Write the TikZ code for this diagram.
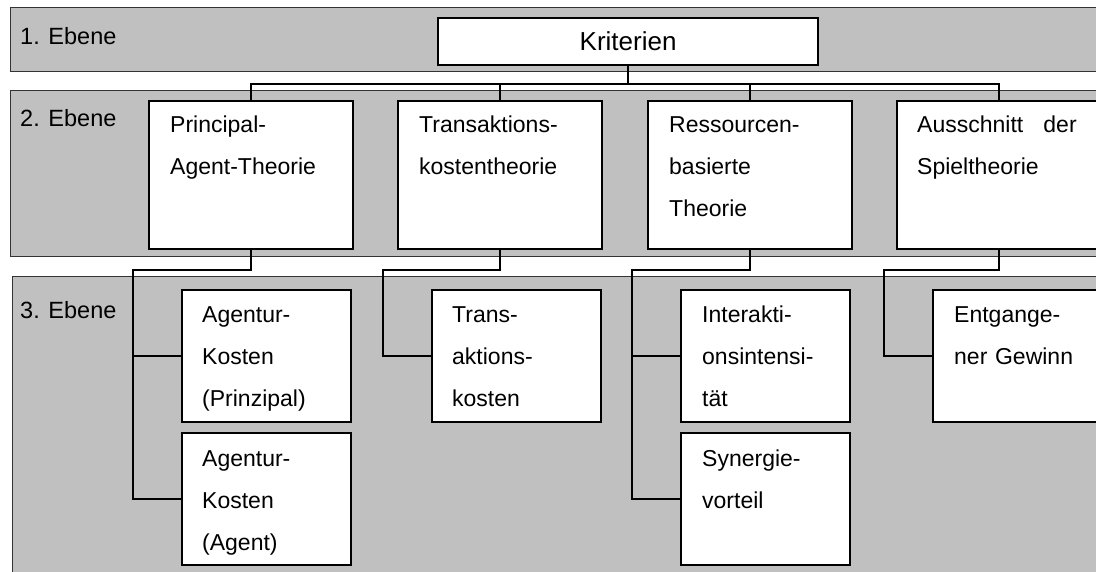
\documentclass[tikz,border=0pt]{standalone}
\usepackage{fontspec}
\setmainfont{Liberation Sans}
\definecolor{bandgray}{HTML}{C0C0C0}
\begin{document}
\begin{tikzpicture}[x=1pt,y=-1pt,
  band/.style={draw=black!80, line width=1pt, fill=bandgray},
  box/.style={draw=black, line width=2.2pt, fill=white, anchor=north west, inner sep=0pt},
  txt/.style={anchor=base west, inner sep=0pt, text width=180pt, align=left, font=\fontsize{23}{42}\selectfont},
  lbl/.style={anchor=base west, inner sep=0pt, font=\fontsize{23.5}{28}\selectfont},
  conn/.style={draw=black, line width=2.2pt}]
\useasboundingbox (0,0) rectangle (1096,572);
\clip (0,0) rectangle (1096,572);
% bands
\draw[band] (10,8) rectangle (1110,72);
\draw[band] (10,91) rectangle (1110,257);
\draw[band] (12,277) rectangle (1110,590);
\node[lbl] (l1) at (20,45) {1. Ebene};
\node[lbl] (l2) at (20,127) {2. Ebene};
\node[lbl] (l3) at (20,319) {3. Ebene};
% boxes
\node[box, minimum width=380pt, minimum height=47pt, font=\fontsize{26}{30}\selectfont] (K) at (437,17) {Kriterien};
\node[box, minimum width=204pt, minimum height=148pt] (P) at (148,100) {};
\node[box, minimum width=204pt, minimum height=148pt] (T) at (397,100) {};
\node[box, minimum width=204pt, minimum height=148pt] (R) at (647,100) {};
\node[box, minimum width=204pt, minimum height=148pt] (A) at (896,100) {};
\node[box, minimum width=169pt, minimum height=132pt] (AK1) at (181,289) {};
\node[box, minimum width=169pt, minimum height=132pt] (AK2) at (181,432) {};
\node[box, minimum width=169pt, minimum height=132pt] (TK) at (431,289) {};
\node[box, minimum width=169pt, minimum height=132pt] (IA) at (680,289) {};
\node[box, minimum width=169pt, minimum height=132pt] (SV) at (680,432) {};
\node[box, minimum width=168pt, minimum height=132pt] (EG) at (932,289) {};
% connectors
\coordinate (bus) at ([yshift=-18pt]K.south);
\draw[conn] (K.south) -- (bus);
\draw[conn] (P.north) |- (bus) -| (A.north);
\draw[conn] (T.north) -- (T.north |- bus);
\draw[conn] (R.north) -- (R.north |- bus);
\draw[conn] (P.south) -- ++(0,20) -| ([xshift=-48pt]AK2.west) -- (AK2.west);
\draw[conn] ([xshift=-48pt]AK1.west) -- (AK1.west);
\draw[conn] (T.south) -- ++(0,20) -| ([xshift=-48pt]TK.west) -- (TK.west);
\draw[conn] (R.south) -- ++(0,20) -| ([xshift=-48pt]SV.west) -- (SV.west);
\draw[conn] ([xshift=-48pt]IA.west) -- (IA.west);
\draw[conn] (A.south) -- ++(0,20) -| ([xshift=-48pt]EG.west) -- (EG.west);
% texts
\node[txt] (tP) at ([xshift=22pt,yshift=-33pt]P.north west) {Principal-\\Agent-Theorie};
\node[txt] (tT) at ([xshift=22pt,yshift=-33pt]T.north west) {Transaktions-\\kostentheorie};
\node[txt] (tR) at ([xshift=22pt,yshift=-33pt]R.north west) {Ressourcen-\\basierte\\Theorie};
\node[txt] (tA) at ([xshift=21pt,yshift=-33pt]A.north west) {Ausschnitt\hspace{12.5pt} der\\Spieltheorie};
\node[txt] (tAK1) at ([xshift=21pt,yshift=-34pt]AK1.north west) {Agentur-\\Kosten\\(Prinzipal)};
\node[txt] (tAK2) at ([xshift=21pt,yshift=-34pt]AK2.north west) {Agentur-\\Kosten\\(Agent)};
\node[txt] (tTK) at ([xshift=21pt,yshift=-34pt]TK.north west) {Trans-\\aktions-\\kosten};
\node[txt] (tIA) at ([xshift=22pt,yshift=-34pt]IA.north west) {Interakti-\\onsintensi-\\tät};
\node[txt] (tSV) at ([xshift=22pt,yshift=-34pt]SV.north west) {Synergie-\\vorteil};
\node[txt] (tEG) at ([xshift=22pt,yshift=-34pt]EG.north west) {Entgange-\\ner Gewinn};
\end{tikzpicture}
\end{document}
